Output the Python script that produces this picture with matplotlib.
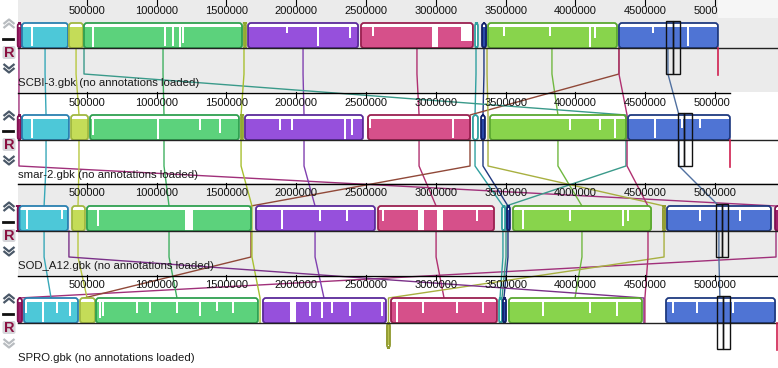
import matplotlib
matplotlib.use("Agg")
import matplotlib.pyplot as plt
from matplotlib.patches import FancyBboxPatch, Rectangle
from matplotlib.transforms import Bbox, TransformedBbox

plt.rcParams['font.family'] = ['Liberation Sans', 'DejaVu Sans']

# genome names and lengths (bp)
genomes = ["SCBI-3.gbk", "smar-2.gbk", "SOD_A12.gbk", "SPRO.gbk"]
genome_len = [5021000, 5107000, 5470000, 5444000]

# LCB colours: (fill, edge)
lcb_colors = {
    "mag":   ("#a0206a", "#801050"),
    "cyan":  ("#4dc8d8", "#2a80b0"),
    "yg":    ("#c4dc58", "#a0b840"),
    "green": ("#5cd27c", "#2fa050"),
    "ygt":   ("#b8d050", "#90a830"),
    "purp":  ("#9650dc", "#5a2a9a"),
    "pink":  ("#d6508a", "#9a2050"),
    "teal":  ("#ffffff", "#30a0a0"),
    "navy":  ("#2a4aa8", "#10206a"),
    "grn2":  ("#88d44c", "#5aa830"),
    "olive": ("#b8c050", "#909a30"),
    "blue":  ("#4f74d4", "#1f3a80"),
}

# blocks per genome: (lcb, start, end, inverted)
scbi3_blocks = [("mag", 5000, 30000, False), ("cyan", 36000, 365000, False),
                ("yg", 372000, 473000, False), ("green", 480000, 1612000, False),
                ("ygt", 1626000, 1640000, False), ("purp", 1655000, 2443000, False),
                ("pink", 2464000, 3266000, False), ("teal", 3281000, 3302000, False),
                ("navy", 3331000, 3360000, False), ("grn2", 3374000, 4298000, False),
                ("blue", 4312000, 5021000, False)]
smar2_blocks = [("mag", 5000, 29000, False), ("cyan", 36000, 372000, False),
                ("yg", 387000, 509000, False), ("green", 523000, 1590000, False),
                ("ygt", 1605000, 1619000, False), ("purp", 1633000, 2478000, False),
                ("pink", 2514000, 3245000, False), ("teal", 3266000, 3302000, False),
                ("navy", 3324000, 3352000, False), ("grn2", 3388000, 4362000, False),
                ("blue", 4377000, 5107000, False)]
sod_blocks = [("mag", 5000, 14000, False), ("cyan", 18000, 365000, False),
              ("yg", 394000, 487000, False), ("green", 501000, 1676000, False),
              ("purp", 1712000, 2564000, False), ("pink", 2586000, 3417000, False),
              ("teal", 3474000, 3496000, False), ("navy", 3510000, 3531000, False),
              ("grn2", 3553000, 4542000, False), ("olive", 4627000, 4642000, False),
              ("blue", 4656000, 5401000, False), ("mag", 5430000, 5470000, False)]
spro_blocks = [("mag", 5000, 36000, False), ("cyan", 50000, 437000, False),
               ("yg", 451000, 559000, False), ("green", 566000, 1726000, False),
               ("purp", 1762000, 2643000, False), ("olive", 2650000, 2672000, True),
               ("pink", 2679000, 3438000, False), ("teal", 3453000, 3474000, False),
               ("navy", 3481000, 3503000, False), ("grn2", 3524000, 4477000, False),
               ("blue", 4649000, 5430000, False)]
blocks = [scbi3_blocks, smar2_blocks, sod_blocks, spro_blocks]

# low-similarity dips in the profiles: (position bp, width bp, depth 0-1)
scbi3_dips = [(107000, 10000, 0.9), (544000, 8000, 1.0), (1060000, 10000, 0.9),
              (1117000, 10000, 0.9), (1168000, 10000, 1.0), (1189000, 8000, 0.8),
              (1934000, 8000, 0.4), (2156000, 10000, 0.9), (2385000, 8000, 0.6),
              (2550000, 8000, 0.5), (2995000, 43000, 1.0), (3220000, 80000, 0.7),
              (3488000, 8000, 0.5), (3818000, 8000, 0.5), (4105000, 10000, 1.0),
              (4140000, 8000, 0.6), (4556000, 8000, 0.4), (4806000, 10000, 0.9)]
smar2_dips = [(107000, 10000, 0.9), (544000, 8000, 0.8), (1010000, 10000, 1.0),
              (1311000, 8000, 0.6), (1454000, 8000, 0.7), (1884000, 8000, 0.6),
              (1970000, 8000, 0.6), (2350000, 10000, 1.0), (2400000, 8000, 0.8),
              (2529000, 8000, 0.5), (3123000, 10000, 0.9), (3961000, 8000, 0.6),
              (4176000, 8000, 0.6), (4284000, 10000, 0.9), (4570000, 10000, 0.9),
              (4764000, 8000, 0.5), (4892000, 8000, 0.5)]
sod_dips = [(72000, 10000, 0.9), (322000, 8000, 0.5), (580000, 10000, 0.8),
            (1232000, 57000, 1.0), (1898000, 10000, 0.9), (2170000, 8000, 0.6),
            (2364000, 8000, 0.6), (2622000, 8000, 0.6), (2894000, 50000, 1.0),
            (3030000, 36000, 1.0), (3295000, 8000, 0.6), (3625000, 10000, 0.9),
            (3961000, 8000, 0.6), (4341000, 10000, 0.8), (4377000, 8000, 0.6),
            (4892000, 8000, 0.6), (5179000, 8000, 0.6)]
spro_dips = [(64000, 8000, 0.6), (186000, 10000, 1.0), (287000, 8000, 0.6),
             (380000, 8000, 0.7), (595000, 10000, 0.8), (616000, 8000, 0.7),
             (860000, 8000, 0.6), (953000, 8000, 0.6), (1146000, 8000, 0.6),
             (1311000, 8000, 0.7), (1433000, 8000, 0.5), (1547000, 8000, 0.6),
             (1977000, 36000, 1.0), (2099000, 8000, 0.7), (2185000, 10000, 0.8),
             (2256000, 8000, 0.6), (2385000, 8000, 0.7), (2615000, 8000, 0.7),
             (2722000, 10000, 1.0), (2908000, 8000, 0.6), (3152000, 8000, 0.6),
             (3338000, 8000, 0.6), (3768000, 8000, 0.7), (4105000, 8000, 0.6),
             (4298000, 8000, 0.7), (4699000, 8000, 0.6), (4871000, 8000, 0.6),
             (5129000, 8000, 0.6)]
dips = [scbi3_dips, smar2_dips, sod_dips, spro_dips]

# LCB connecting lines: colour and position in each genome (bp, None = not drawn)
link_colors = ["#a0307a", "#38a8b8", "#b8c840", "#40b060", "#8040b0", "#b03070",
               "#70b840", "#5070a0", "#30a0a0", "#203880", "#904838", "#3a9a8a",
               "#a8b040", "#a8c030", "#7a3088", "#b03070"]
link_pos = [
    [14000, 14000, 5437000, 14000],
    [201000, 208000, 194000, 244000],
    [423000, 444000, 437000, 502000],
    [1046000, 1053000, 1089000, 1146000],
    [2049000, 2056000, 2135000, 2199000],
    [2865000, 2880000, 3002000, 3059000],
    [3832000, 3875000, 4047000, 3997000],
    [4663000, 4742000, 5028000, 5035000],
    [3288000, 3281000, 3481000, 3460000],
    [3345000, 3338000, 3517000, 3488000],
    [4312000, 3245000, 1676000, 480000],
    [480000, 4362000, 3503000, 3474000],
    [3367000, 3374000, 4635000, 2661000],
    [1626000, 1605000, 1683000, 1741000],
    [None, None, 372000, 4491000],
    [4312000, 4370000, 4520000, 4498000],
]

# cursor boxes per genome: left, middle, right (bp)
box_pos = [(4649000, 4699000, 4749000), (4735000, 4778000, 4835000),
           (5007000, 5050000, 5093000), (5014000, 5057000, 5107000)]

ticks = [500000, 1000000, 1500000, 2000000, 2500000, 3000000, 3500000,
         4000000, 4500000, 5000000]

# layout (pixels)
BPP = 500000 / 69.8
X0 = 17
W, H = 778, 368
panel_top = [0, 92, 183, 275]
panel_bg = ["#ebebeb", "#ffffff", "#ebebeb", "#ffffff"]

fig = plt.figure(figsize=(W / 100, H / 100), dpi=100)
fig.patch.set_facecolor("white")
ax = fig.add_axes([0, 0, 1, 1])
ax.set_xlim(-X0 * BPP, (W - X0) * BPP)
ax.set_ylim(H, 0)
ax.axis("off")

ui = fig.add_axes([0, 0, 1, 1])
ui.set_xlim(0, W)
ui.set_ylim(H, 0)
ui.axis("off")
ui.patch.set_alpha(0)

xmin = 1 * BPP
xmax = (W - X0) * BPP
ROUND = "round,pad=0,rounding_size=%f" % (3 * BPP)

for i, off in enumerate(panel_top):
    bottom = panel_top[i + 1] if i < 3 else H
    ax.add_patch(Rectangle((xmin, off), xmax - xmin, bottom - off,
                           fc=panel_bg[i], ec="none", zorder=0))
    gl = min(genome_len[i], xmax)
    if i == 0:
        ax.add_patch(Rectangle((gl, off), xmax - gl, 18, fc="#f6f6f6",
                               ec="none", zorder=0.5))
    # ruler
    if i > 0:
        ax.plot([xmin, gl], [off + 0.5, off + 0.5], color="black", lw=1, zorder=5)
    clip = TransformedBbox(Bbox([[xmin, off - 1], [gl, off + 20]]), ax.transData)
    for t in ticks:
        if t > gl + 200000:
            continue
        ax.plot([t, t], [off, off + 5], color="black", lw=0.8, zorder=5)
        txt = ax.text(t, off + 10.5, str(t), ha="center", va="center",
                      fontsize=8, color="#111111", zorder=6)
        txt.set_clip_box(clip)
        txt.set_clip_on(True)
    # centre line
    ax.plot([xmin, xmax], [off + 48, off + 48], color="#222222", lw=1, zorder=4)
    # genome end marker
    if genome_len[i] <= xmax:
        ax.plot([genome_len[i]] * 2, [off + 48, off + 75], color="#d02050",
                lw=1.2, zorder=4)
    # label
    ui.text(18, off + 83, genomes[i] + " (no annotations loaded)", ha="left",
            va="center", fontsize=8.2, color="#1a1a1a", zorder=6)

# connecting lines
for col, pos in zip(link_colors, link_pos):
    xs, ys = [], []
    for i, p in enumerate(pos):
        if p is None:
            continue
        off = panel_top[i]
        if xs:
            xs += [p, p]
            ys += [off + 23, off + 48]
        else:
            xs += [p]
            ys += [off + 48]
        if i < 3:
            xs.append(p)
            ys.append(off + 74)
    ax.plot(xs, ys, color=col, lw=1, zorder=2)

# blocks with similarity profile
for i, blist in enumerate(blocks):
    off = panel_top[i]
    for lcb, s, e, inv in blist:
        fc, ec = lcb_colors[lcb]
        top = off + (48 if inv else 23)
        box = FancyBboxPatch((s, top), e - s, 25, boxstyle=ROUND,
                             mutation_aspect=1 / BPP, fc="white", ec="none",
                             zorder=3)
        ax.add_patch(box)
        fill_y = top if inv else top + 3.5
        fill = Rectangle((s, fill_y), e - s, 21.5, fc=fc, ec="none", zorder=3.1)
        ax.add_patch(fill)
        fill.set_clip_path(box)
        for c, w, d in dips[i]:
            if s < c < e and not inv:
                w = max(w, 1.3 * BPP)
                notch = Rectangle((c - w / 2, top), w, 25 * d, fc="white",
                                  ec="none", zorder=3.15)
                ax.add_patch(notch)
                notch.set_clip_path(box)
        edge = FancyBboxPatch((s, top), e - s, 25, boxstyle=ROUND,
                              mutation_aspect=1 / BPP, fc="none", ec=ec, lw=1.3,
                              zorder=3.2)
        ax.add_patch(edge)
    # cursor boxes
    l, m, r = box_pos[i]
    for a, b in [(l, m), (m, r)]:
        ax.add_patch(Rectangle((a, off + 21), b - a, 53, fc="none",
                               ec="#111111", lw=1, zorder=4.5))

# left controls
for i, off in enumerate(panel_top):
    up_col = "#b8bcc0" if i == 0 else "#4a5868"
    dn_col = "#b8bcc0" if i == 3 else "#4a5868"
    y = off + 23
    for d in (0, 4):
        ui.plot([3.5, 9, 14.5], [y + 1 + d, y - 3.5 + d, y + 1 + d], color=up_col,
                lw=1.6, solid_capstyle="butt")
    ui.plot([3.5, 13.5], [off + 38.5, off + 38.5], color="#111111", lw=2)
    ui.add_patch(FancyBboxPatch((2.5, off + 46), 13, 13,
                                boxstyle="round,pad=0,rounding_size=2",
                                fc="#d6d6da", ec="none"))
    ui.text(9, off + 53, "R", ha="center", va="center", fontsize=10.5,
            fontweight="bold", color="#8a1040")
    y = off + 65
    for d in (0, 4):
        ui.plot([3.5, 9, 14.5], [y - 1 + d, y + 3.5 + d, y - 1 + d], color=dn_col,
                lw=1.6, solid_capstyle="butt")

fig.savefig("out.png", dpi=100)
